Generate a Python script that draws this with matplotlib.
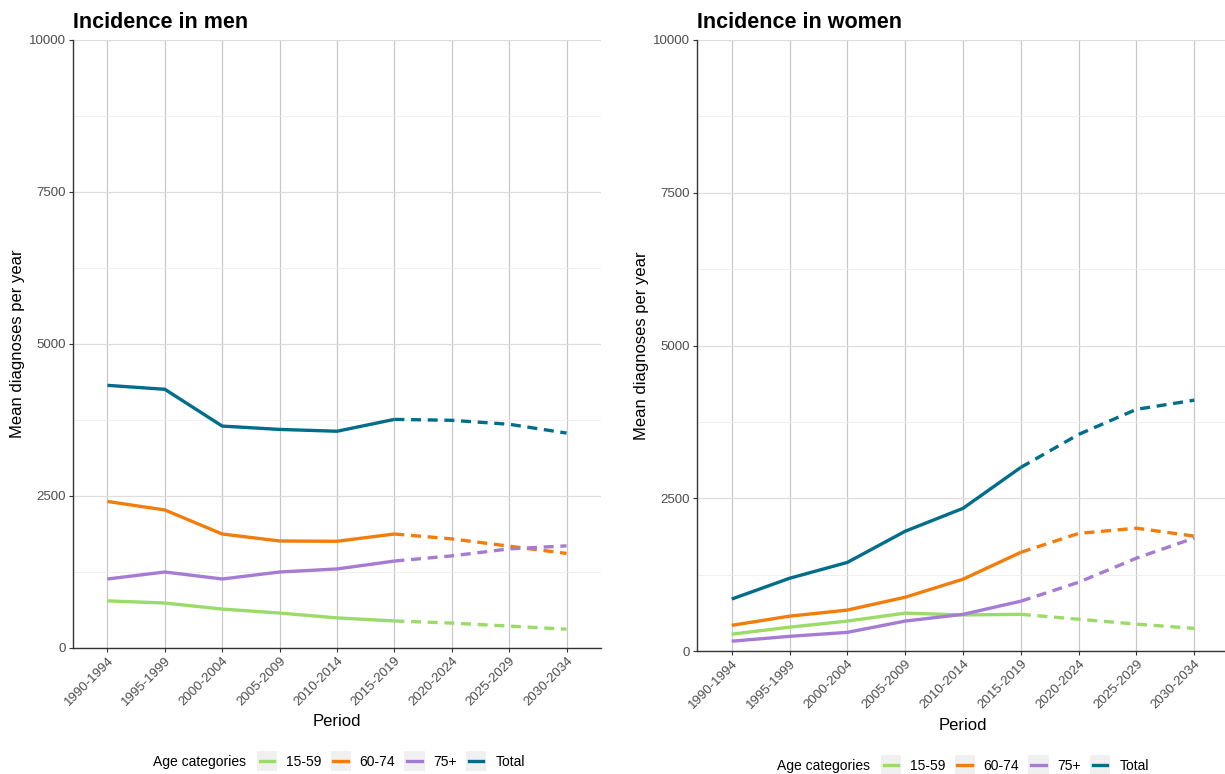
import numpy as np
import matplotlib
matplotlib.use('Agg')
import matplotlib.pyplot as plt
from matplotlib.legend_handler import HandlerLine2D
from matplotlib.lines import Line2D
from matplotlib.patches import Rectangle

plt.rcParams['font.family'] = ['Liberation Sans', 'DejaVu Sans']

periods = ['1990-1994', '1995-1999', '2000-2004', '2005-2009', '2010-2014',
           '2015-2019', '2020-2024', '2025-2029', '2030-2034']
n_observed = 6  # last observed period is 2015-2019, rest projected

categories = ['15-59', '60-74', '75+', 'Total']
colors = ['#9BDB68', '#F07D0C', '#A67BD4', '#006E8A']

# men
men_1559 = [775, 740, 640, 575, 495, 445, 410, 360, 310]
men_6074 = [2410, 2270, 1875, 1760, 1755, 1875, 1795, 1675, 1555]
men_75 = [1135, 1250, 1135, 1250, 1300, 1430, 1515, 1630, 1680]
men_total = [4320, 4255, 3650, 3595, 3565, 3760, 3745, 3680, 3535]

# women
women_1559 = [275, 390, 490, 620, 590, 600, 520, 440, 370]
women_6074 = [420, 570, 670, 880, 1175, 1615, 1925, 2010, 1880]
women_75 = [160, 240, 305, 490, 600, 815, 1125, 1520, 1850]
women_total = [850, 1190, 1450, 1960, 2335, 3005, 3545, 3955, 4105]

men = [men_1559, men_6074, men_75, men_total]
women = [women_1559, women_6074, women_75, women_total]


class KeyHandler(HandlerLine2D):
    def create_artists(self, legend, orig_handle, xdescent, ydescent,
                       width, height, fontsize, trans):
        yc = -ydescent + height / 2
        bg = Rectangle((-xdescent, yc - width / 2), width, width,
                       facecolor='#F0F0F0', edgecolor='none', transform=trans)
        arts = super().create_artists(legend, orig_handle, xdescent - 2,
                                      ydescent, width - 4, height, fontsize, trans)
        return [bg] + arts


fig = plt.figure(figsize=(12.25, 7.74), dpi=100)
W, H = 1225, 774


def panel(rect, data, title, legend_y, xlabel_y):
    l, t, r, b = rect
    ax = fig.add_axes([l / W, 1 - b / H, (r - l) / W, (b - t) / H])
    x = np.arange(len(periods))
    for vals, c in zip(data, colors):
        v = np.array(vals)
        ax.plot(x[:n_observed], v[:n_observed], color=c, lw=2.4,
                solid_capstyle='butt', zorder=3)
        ax.plot(x[n_observed - 1:], v[n_observed - 1:], color=c, lw=2.4,
                ls=(0, (3, 2)), dash_capstyle='butt', zorder=3)
    ax.set_xlim(-0.6, len(periods) - 0.4)
    ax.set_ylim(0, 10000)
    ax.set_yticks([0, 2500, 5000, 7500, 10000])
    ax.set_yticks([1250, 3750, 6250, 8750], minor=True)
    ax.set_xticks(x)
    ax.set_xticklabels(periods, rotation=45, ha='right', rotation_mode='anchor')
    ax.tick_params(axis='both', labelsize=9.5, labelcolor='#4D4D4D',
                   color='#333333', length=3, width=0.8, pad=2)
    ax.tick_params(axis='y', which='minor', length=0)
    ax.grid(axis='x', color='#C8C8C8', lw=0.9)
    ax.grid(axis='y', which='major', color='#DEDEDE', lw=0.9)
    ax.grid(axis='y', which='minor', color='#EDEDED', lw=0.6)
    ax.set_axisbelow(True)
    for s in ['top', 'right']:
        ax.spines[s].set_visible(False)
    for s in ['left', 'bottom']:
        ax.spines[s].set_color('#333333')
        ax.spines[s].set_linewidth(1.0)
    ax.set_ylabel('Mean diagnoses per year', fontsize=12, labelpad=3)
    ax.set_xlabel('')
    fig.text(((l + r) / 2) / W, 1 - xlabel_y / H, 'Period', fontsize=12,
             ha='center', va='center')
    ax.set_title(title, loc='left', fontsize=15.5, fontweight='bold', pad=9)

    handles = [Line2D([], [], color=c, lw=2.4) for c in colors]
    fig.legend(handles, categories, loc='center left',
               bbox_to_anchor=((l + 184) / W, 1 - legend_y / H),
               ncol=4, frameon=False, fontsize=10, handlelength=1.45,
               handletextpad=0.65, columnspacing=0.65, borderaxespad=0,
               borderpad=0, handler_map={Line2D: KeyHandler()})
    fig.text((l + 80) / W, 1 - legend_y / H, 'Age categories', fontsize=10,
             ha='left', va='center')
    return ax


panel((73, 40, 601, 648), men, 'Incidence in men', 762, 722)
panel((697, 40, 1229, 651), women, 'Incidence in women', 766, 726)

fig.savefig('out.png', dpi=100)
